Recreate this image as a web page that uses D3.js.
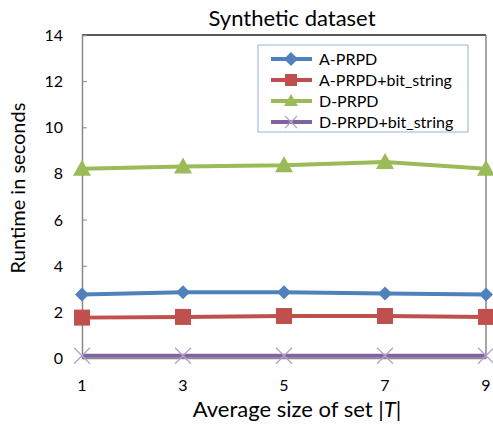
<!DOCTYPE html>
<html>
<head>
<meta charset="utf-8">
<script src="https://cdn.jsdelivr.net/npm/d3@7"></script>
<style>
  body { margin: 0; background: #fff; }
  text { font-family: Lato, "Open Sans", sans-serif; fill: #000; }
</style>
</head>
<body>
<svg width="493" height="428"></svg>
<script>
// data
const xValues = [1, 3, 5, 7, 9];
const yTicks = [0, 2, 4, 6, 8, 10, 12, 14];
const seriesNames = ["A-PRPD", "A-PRPD+bit_string", "D-PRPD", "D-PRPD+bit_string"];
const aPrpd = [2.75, 2.85, 2.85, 2.8, 2.75];
const aPrpdBit = [1.75, 1.78, 1.82, 1.82, 1.78];
const dPrpd = [8.2, 8.3, 8.35, 8.5, 8.2];
const dPrpdBit = [0.1, 0.1, 0.1, 0.1, 0.1];

const colors = ["#4F81BD", "#C0504D", "#9BBB59", "#8064A2"];
const markers = ["diamond", "square", "triangle", "cross"];
const series = [aPrpd, aPrpdBit, dPrpd, dPrpdBit];

const margin = { top: 35, right: 7, bottom: 70, left: 82 };
const width = 493, height = 428;
const svg = d3.select("svg");

const x = d3.scaleLinear().domain([1, 9]).range([margin.left, width - margin.right]);
const y = d3.scaleLinear().domain([0, 14]).range([height - margin.bottom, margin.top]);

// frame
svg.append("line").attr("x1", x(1)).attr("x2", x(9)).attr("y1", y(14)).attr("y2", y(14))
  .attr("stroke", "#222").attr("stroke-width", 1.5);
svg.append("line").attr("x1", x(9)).attr("x2", x(9)).attr("y1", y(14)).attr("y2", y(0))
  .attr("stroke", "#888").attr("stroke-width", 1.5);

// y axis
const yAxis = svg.append("g")
  .attr("transform", `translate(${margin.left},0)`)
  .call(d3.axisRight(y).tickValues(yTicks).tickSize(5).tickFormat(""));
yAxis.select(".domain").attr("stroke", "#888").attr("stroke-width", 1.5);
yAxis.selectAll(".tick line").attr("stroke", "#888");

svg.append("g").selectAll("text").data(yTicks).enter().append("text")
  .attr("x", 63).attr("y", d => y(d) + 6)
  .attr("text-anchor", "end").attr("font-size", 16)
  .text(d => d);

// x axis
const xAxis = svg.append("g")
  .attr("transform", `translate(0,${y(0)})`)
  .call(d3.axisBottom(x).tickValues(xValues).tickSize(0).tickFormat(""));
xAxis.select(".domain").attr("stroke", "#888").attr("stroke-width", 1.5);

svg.append("g").selectAll("text").data(xValues).enter().append("text")
  .attr("x", d => x(d)).attr("y", 391)
  .attr("text-anchor", "middle").attr("font-size", 16)
  .text(d => d);

// titles
svg.append("text").attr("x", 292).attr("y", 26).attr("text-anchor", "middle")
  .attr("font-size", 22).text("Synthetic dataset");

svg.append("text").attr("transform", "translate(25,188) rotate(-90)")
  .attr("text-anchor", "middle").attr("font-size", 20).text("Runtime in seconds");

const xl = svg.append("text").attr("x", 297).attr("y", 417).attr("text-anchor", "middle")
  .attr("font-size", 22);
xl.append("tspan").text("Average size of set |");
xl.append("tspan").attr("font-style", "italic").text("T");
xl.append("tspan").text("|");

// markers
function drawMarker(g, type, cx, cy, color) {
  if (type === "diamond") {
    g.append("path").attr("d", `M${cx},${cy - 7}L${cx + 7},${cy}L${cx},${cy + 7}L${cx - 7},${cy}Z`)
      .attr("fill", color);
  } else if (type === "square") {
    g.append("rect").attr("x", cx - 8).attr("y", cy - 8).attr("width", 16).attr("height", 16)
      .attr("fill", color);
  } else if (type === "triangle") {
    g.append("path").attr("d", `M${cx},${cy - 9}L${cx + 9},${cy + 7}L${cx - 9},${cy + 7}Z`)
      .attr("fill", color);
  } else {
    g.append("path").attr("d", `M${cx - 8},${cy - 8}L${cx + 8},${cy + 8}M${cx - 8},${cy + 8}L${cx + 8},${cy - 8}`)
      .attr("stroke", "#b3a2c7").attr("stroke-width", 1.3).attr("fill", "none");
  }
}

const line = d3.line().x((d, i) => x(xValues[i])).y(d => y(d));

series.forEach((vals, s) => {
  const g = svg.append("g");
  g.append("path").datum(vals).attr("d", line)
    .attr("fill", "none").attr("stroke", colors[s]).attr("stroke-width", 4);
  vals.forEach((v, i) => drawMarker(g, markers[s], x(xValues[i]), y(v), colors[s]));
});

// legend
const legend = svg.append("g");
legend.append("rect").attr("x", 258).attr("y", 45).attr("width", 210).attr("height", 87)
  .attr("fill", "#fff").attr("stroke", "#95b3d7").attr("stroke-width", 1);
seriesNames.forEach((name, i) => {
  const ly = 59 + i * 21;
  legend.append("line").attr("x1", 271).attr("x2", 312).attr("y1", ly).attr("y2", ly)
    .attr("stroke", colors[i]).attr("stroke-width", 4);
  const mg = legend.append("g");
  if (markers[i] === "diamond") drawMarker(mg, "diamond", 291, ly, colors[i]);
  else if (markers[i] === "square") {
    mg.append("rect").attr("x", 285).attr("y", ly - 6).attr("width", 12).attr("height", 12).attr("fill", colors[i]);
  } else if (markers[i] === "triangle") {
    mg.append("path").attr("d", `M291,${ly - 7}L298,${ly + 5}L284,${ly + 5}Z`).attr("fill", colors[i]);
  } else {
    mg.append("path").attr("d", `M285,${ly - 6}L297,${ly + 6}M285,${ly + 6}L297,${ly - 6}`)
      .attr("stroke", "#b3a2c7").attr("stroke-width", 1.2);
  }
  legend.append("text").attr("x", 319).attr("y", ly + 6).attr("font-size", 16).text(name);
});
</script>
</body>
</html>
